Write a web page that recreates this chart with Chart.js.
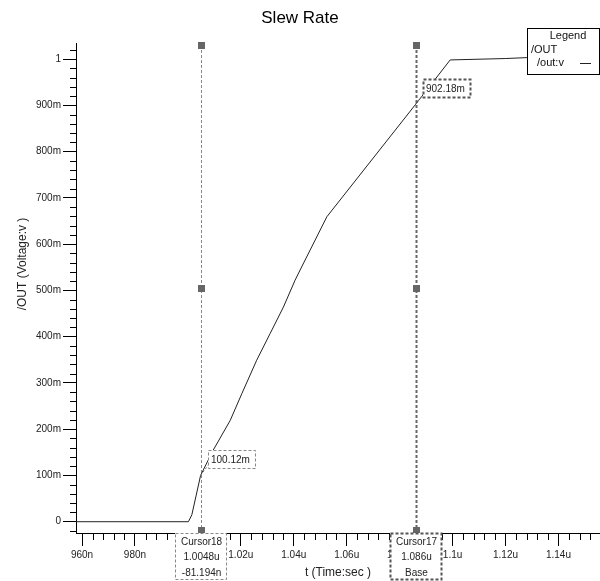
<!DOCTYPE html>
<html>
<head>
<meta charset="utf-8">
<title>Slew Rate</title>
<script src="https://cdn.jsdelivr.net/npm/chart.js@4.4.0/dist/chart.umd.min.js"></script>
<style>
  html, body { margin: 0; padding: 0; background: #fff; }
  #wrap { width: 600px; height: 581px; position: relative; }
</style>
</head>
<body>
<div id="wrap"><canvas id="chart"></canvas></div>
<script>
// waveform /out:v, time in ns, value in V
const timeNs = [957.7, 1000.2, 1001.5, 1004.8, 1009.6, 1016.0, 1020.4, 1026.0, 1031.1, 1036.1, 1040.5, 1042.4, 1052.5, 1085.9, 1099.1, 1119.9, 1128.1, 1155.8];
const outV   = [0, 0, 0.015, 0.100, 0.155, 0.219, 0.277, 0.349, 0.407, 0.464, 0.522, 0.544, 0.659, 0.901, 0.998, 1.001, 1.003, 1.004];

const xTickValues = [960, 980, 1000, 1020, 1040, 1060, 1080, 1100, 1120, 1140];
const yTickValues = [0, 0.1, 0.2, 0.3, 0.4, 0.5, 0.6, 0.7, 0.8, 0.9, 1];

// cursors
const cursorNames  = ['Cursor18', 'Cursor17'];
const cursorTimes  = [1004.8, 1086];
const cursorTimeText = ['1.0048u', '1.086u'];
const cursorDelta  = ['-81.194n', 'Base'];
const cursorValues = [0.10012, 0.90218];
const cursorValueText = ['100.12m', '902.18m'];
const cursorBold   = [false, true];

const legendTitle = 'Legend';
const legendGroup = '/OUT';
const seriesName  = '/out:v';

const FONT = '"Liberation Sans", Arial, sans-serif';

function fmtTime(v) {
    if (v < 1000) return v + 'n';
    return (v / 1000) + 'u';
}
function fmtVolt(v) {
    if (Math.abs(v) < 1e-9) return '0';
    if (Math.abs(v - 1) < 1e-9) return '1';
    return Math.round(v * 1000) + 'm';
}

function dashedRect(ctx, x, y, w, h, bold) {
    ctx.save();
    ctx.fillStyle = '#fff';
    ctx.fillRect(x, y, w, h);
    ctx.setLineDash([3, 2]);
    ctx.lineWidth = bold ? 2 : 1;
    ctx.strokeStyle = bold ? '#555' : '#888';
    ctx.strokeRect(x + 0.5, y + 0.5, w, h);
    ctx.restore();
}

const overlay = {
    id: 'overlay',
    beforeDatasetsDraw(chart) {
        const {ctx, chartArea, scales: {x}} = chart;
        ctx.save();
        cursorTimes.forEach((t, i) => {
            const px = Math.round(x.getPixelForValue(t)) + 0.5;
            ctx.setLineDash([3, 2]);
            ctx.lineWidth = cursorBold[i] ? 2 : 1;
            ctx.strokeStyle = cursorBold[i] ? '#666' : '#888';
            ctx.beginPath();
            ctx.moveTo(px, chartArea.top + 2);
            ctx.lineTo(px, chartArea.bottom - 3);
            ctx.stroke();
        });
        ctx.restore();
    },
    afterDraw(chart) {
        const {ctx, chartArea, scales: {x, y}} = chart;
        ctx.save();

        // minor ticks
        ctx.strokeStyle = '#000';
        ctx.lineWidth = 1;
        ctx.beginPath();
        for (let t = 960; t <= x.max; t += 4) {
            if (t % 20 === 0) continue;
            const px = Math.round(x.getPixelForValue(t)) + 0.5;
            ctx.moveTo(px, chartArea.bottom);
            ctx.lineTo(px, chartArea.bottom + 7);
        }
        for (let k = -1; k <= 51; k++) {
            if (k % 5 === 0) continue;
            const v = k * 0.02;
            if (v < y.min || v > y.max) continue;
            const py = Math.round(y.getPixelForValue(v)) + 0.5;
            ctx.moveTo(chartArea.left - 6, py);
            ctx.lineTo(chartArea.left, py);
        }
        ctx.stroke();

        // cursor markers
        ctx.fillStyle = '#666';
        cursorTimes.forEach((t) => {
            const px = x.getPixelForValue(t);
            const ys = [chartArea.top + 2, (chartArea.top + chartArea.bottom) / 2, chartArea.bottom - 3];
            ys.forEach(py => ctx.fillRect(Math.round(px) - 3, Math.round(py) - 3, 7, 7));
        });

        ctx.font = '10px ' + FONT;
        ctx.textBaseline = 'middle';

        // value labels
        cursorTimes.forEach((t, i) => {
            const px = x.getPixelForValue(t);
            const py = y.getPixelForValue(cursorValues[i]);
            const bx = Math.round(px + 7.5), by = Math.round(py - 25);
            ctx.save();
            ctx.setLineDash([2, 2]);
            ctx.strokeStyle = '#777';
            ctx.lineWidth = 1;
            ctx.beginPath();
            ctx.moveTo(px, py);
            ctx.lineTo(bx, py - 10);
            ctx.stroke();
            ctx.restore();
            dashedRect(ctx, bx, by, 47, 18, cursorBold[i]);
            ctx.fillStyle = '#222';
            ctx.textAlign = 'left';
            ctx.fillText(cursorValueText[i], bx + 3, by + 10);
        });

        // cursor boxes under the axis
        cursorTimes.forEach((t, i) => {
            const px = x.getPixelForValue(t);
            const bx = Math.round(px - 26), by = chartArea.bottom;
            dashedRect(ctx, bx, by, 51, 46, cursorBold[i]);
            ctx.fillStyle = '#222';
            ctx.textAlign = 'center';
            ctx.fillText(cursorNames[i], px + 1, by + 9);
            ctx.fillText(cursorTimeText[i], px + 1, by + 24.5);
            ctx.fillText(cursorDelta[i], px + 1, by + 40);
        });

        // legend box
        const lx = 527, ly = 28, lw = 72, lh = 46;
        ctx.fillStyle = '#fff';
        ctx.fillRect(lx, ly, lw, lh);
        ctx.strokeStyle = '#000';
        ctx.lineWidth = 1;
        ctx.strokeRect(lx + 0.5, ly + 0.5, lw, lh);
        ctx.fillStyle = '#111';
        ctx.font = '11px ' + FONT;
        ctx.textAlign = 'center';
        ctx.fillText(legendTitle, lx + 41, ly + 8);
        ctx.textAlign = 'left';
        ctx.fillText(legendGroup, lx + 4, ly + 22);
        ctx.fillText(seriesName, lx + 10, ly + 35);
        ctx.strokeStyle = '#222';
        ctx.beginPath();
        ctx.moveTo(lx + 53, ly + 35.5);
        ctx.lineTo(lx + 64, ly + 35.5);
        ctx.stroke();

        // y axis title
        ctx.save();
        ctx.translate(23, 264);
        ctx.rotate(-Math.PI / 2);
        ctx.font = '12px ' + FONT;
        ctx.fillStyle = '#222';
        ctx.textAlign = 'center';
        ctx.fillText('/OUT (Voltage:v )', 0, 0);
        ctx.restore();

        ctx.restore();
    }
};

new Chart(document.getElementById('chart'), {
    type: 'line',
    data: {
        datasets: [{
            label: seriesName,
            data: timeNs.map((t, i) => ({x: t, y: outV[i]})),
            borderColor: '#222',
            borderWidth: 1,
            pointRadius: 0,
            tension: 0,
            fill: false
        }]
    },
    options: {
        responsive: true,
        maintainAspectRatio: false,
        animation: false,
        devicePixelRatio: 1,
        layout: { padding: 0 },
        plugins: {
            legend: { display: false },
            tooltip: { enabled: false },
            title: {
                display: true,
                text: 'Slew Rate',
                color: '#000',
                font: { family: FONT, size: 17, weight: 'normal' },
                padding: { top: 8, bottom: 14.6 }
            }
        },
        scales: {
            x: {
                type: 'linear',
                min: 957.73,
                max: 1155.7,
                afterFit(scale) { scale.height = 48; },
                afterBuildTicks(scale) { scale.ticks = xTickValues.map(v => ({value: v})); },
                grid: { drawOnChartArea: false, tickLength: 13, color: '#000' },
                border: { color: '#000', width: 1 },
                ticks: {
                    autoSkip: false,
                    maxRotation: 0,
                    padding: 3,
                    color: '#222',
                    font: { family: FONT, size: 10 },
                    callback: (v) => fmtTime(v)
                },
                title: {
                    display: true,
                    text: 't (Time:sec )',
                    color: '#222',
                    font: { family: FONT, size: 12 },
                    padding: { top: 0, bottom: 1 }
                }
            },
            y: {
                type: 'linear',
                min: -0.0244,
                max: 1.0346,
                afterFit(scale) { scale.width = 76; },
                afterBuildTicks(scale) { scale.ticks = yTickValues.map(v => ({value: v})); },
                grid: { drawOnChartArea: false, tickLength: 13, color: '#000' },
                border: { color: '#000', width: 1 },
                ticks: {
                    padding: 2,
                    color: '#222',
                    font: { family: FONT, size: 10 },
                    callback: (v) => fmtVolt(v)
                }
            }
        }
    },
    plugins: [overlay]
});
</script>
</body>
</html>
